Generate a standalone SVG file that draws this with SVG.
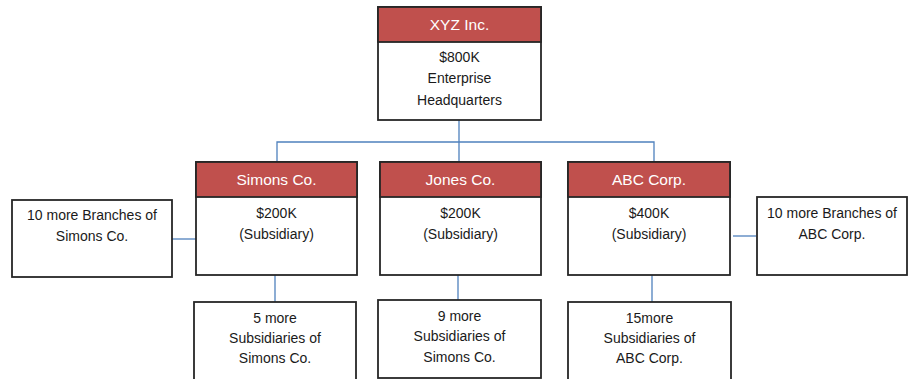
<svg xmlns="http://www.w3.org/2000/svg" width="908" height="379" viewBox="0 0 908 379">
  <style>
    .box { fill: #ffffff; stroke: #262626; stroke-width: 1.8; }
    .hdr { fill: #C0504D; stroke: #262626; stroke-width: 1.8; }
    .wire { fill: none; stroke: #4F81BD; stroke-width: 1.3; }
    text { font-family: "Liberation Sans", Arial, sans-serif; font-size: 14px; fill: #1a1a1a; text-anchor: middle; }
    .ht { fill: #ffffff; font-size: 15.5px; }
  </style>
  <rect width="908" height="379" fill="#ffffff"/>

  <g id="connectors">
    <path class="wire" d="M459 120 V142 M277 162 V142 H654 V162 M459 142 V162"/>
    <path class="wire" d="M172 239 H196"/>
    <path class="wire" d="M733 236 H756"/>
    <path class="wire" d="M275 275 V302"/>
    <path class="wire" d="M458 275 V300"/>
    <path class="wire" d="M652 275 V302"/>
  </g>

  <g id="xyz">
    <rect class="box" x="378" y="7" width="163" height="113"/>
    <rect class="hdr" x="378" y="7" width="163" height="35"/>
    <text class="ht" x="459.5" y="30">XYZ Inc.</text>
    <text x="459.5" y="62">$800K</text>
    <text x="459.5" y="83">Enterprise</text>
    <text x="459.5" y="105">Headquarters</text>
  </g>

  <g id="simons">
    <rect class="box" x="196" y="162" width="161" height="113"/>
    <rect class="hdr" x="196" y="162" width="161" height="35"/>
    <text class="ht" x="276.5" y="185">Simons Co.</text>
    <text x="276.5" y="218">$200K</text>
    <text x="276.5" y="239">(Subsidiary)</text>
  </g>

  <g id="jones">
    <rect class="box" x="380" y="162" width="161" height="113"/>
    <rect class="hdr" x="380" y="162" width="161" height="35"/>
    <text class="ht" x="460.5" y="185">Jones Co.</text>
    <text x="460.5" y="218">$200K</text>
    <text x="460.5" y="239">(Subsidiary)</text>
  </g>

  <g id="abc">
    <rect class="box" x="568" y="162" width="162" height="113"/>
    <rect class="hdr" x="568" y="162" width="162" height="35"/>
    <text class="ht" x="649" y="185">ABC Corp.</text>
    <text x="649" y="218">$400K</text>
    <text x="649" y="239">(Subsidiary)</text>
  </g>

  <g id="simons-branches">
    <rect class="box" x="12" y="200" width="160" height="77"/>
    <text x="92" y="220">10 more Branches of</text>
    <text x="92" y="241">Simons Co.</text>
  </g>

  <g id="abc-branches">
    <rect class="box" x="757" y="197" width="150" height="78"/>
    <text x="832" y="218">10 more Branches of</text>
    <text x="832" y="239">ABC Corp.</text>
  </g>

  <g id="simons-subs">
    <rect class="box" x="194" y="302" width="162" height="90"/>
    <text x="275" y="323">5 more</text>
    <text x="275" y="343">Subsidiaries of</text>
    <text x="275" y="363">Simons Co.</text>
  </g>

  <g id="jones-subs">
    <rect class="box" x="378" y="300" width="163" height="78"/>
    <text x="459.5" y="321">9 more</text>
    <text x="459.5" y="341">Subsidiaries of</text>
    <text x="459.5" y="362">Simons Co.</text>
  </g>

  <g id="abc-subs">
    <rect class="box" x="568" y="302" width="163" height="90"/>
    <text x="649.5" y="323">15more</text>
    <text x="649.5" y="343">Subsidiaries of</text>
    <text x="649.5" y="363">ABC Corp.</text>
  </g>
</svg>
